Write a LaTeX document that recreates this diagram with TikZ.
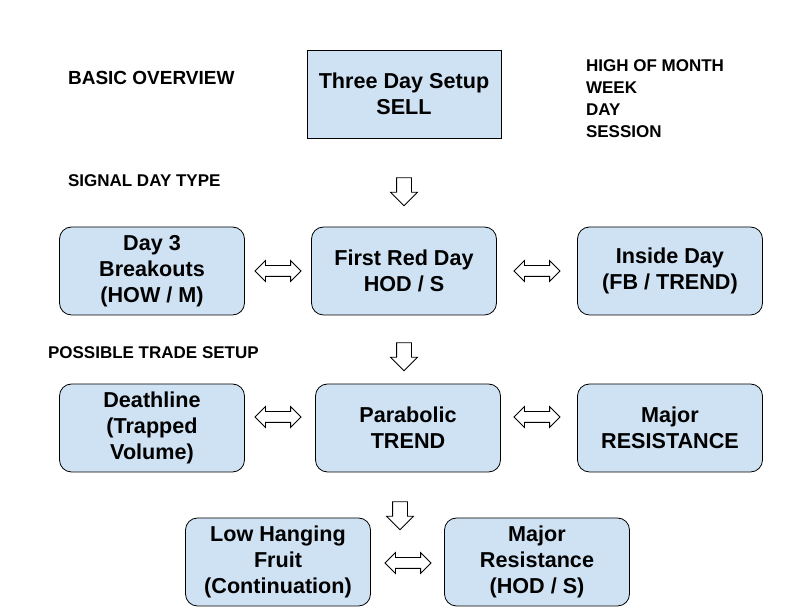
\documentclass[tikz,border=0pt]{standalone}
\usepackage{fontspec}
\setmainfont{Liberation Sans}
\usetikzlibrary{shapes.arrows}
\definecolor{boxblue}{HTML}{CFE2F3}

\begin{document}
\begin{tikzpicture}[x=0.5pt,y=-0.5pt]
        \tikzstyle{every node}=[font=\bfseries]
        \tikzstyle{box}=[draw,fill=boxblue,rounded corners=6pt,minimum width=92.5pt,minimum height=44pt,align=center,font=\fontsize{10.8}{13}\selectfont\bfseries]
        \tikzstyle{tag}=[anchor=west,font=\fontsize{8.5}{11}\selectfont\bfseries,align=left]
        \tikzstyle{down}=[draw,fill=white,single arrow,shape border rotate=270,minimum height=14pt,inner sep=3.5pt,single arrow head extend=3pt]
        \tikzstyle{both}=[draw,fill=white,double arrow,minimum height=23pt,inner sep=2.5pt,double arrow head extend=2.5pt]

        \useasboundingbox (0,0) rectangle (805,608);

        % top setup box
        \node [box,rounded corners=0pt,minimum width=97pt] (setup) at (404,94) {Three Day Setup\\SELL};

        % signal day row
        \node [box] (day3) at (152,271) {Day 3\\Breakouts\\(HOW / M)};
        \node [box] (redday) at (404,271) {First Red Day\\HOD / S};
        \node [box] (inside) at (670,271) {Inside Day\\(FB / TREND)};

        % trade setup row
        \node [box] (death) at (152,428) {Deathline\\(Trapped\\Volume)};
        \node [box] (para) at (408,428) {Parabolic\\TREND};
        \node [box] (major) at (670,428) {Major\\RESISTANCE};

        % bottom row
        \node [box] (fruit) at (278,562) {Low Hanging\\Fruit\\(Continuation)};
        \node [box] (majres) at (537,562) {Major\\Resistance\\(HOD / S)};

        %block arrows between the boxes
        \node [down] (d1) at (404,188) {};
        \node [down] (d2) at (404,353) {};
        \node [down] (d3) at (400,512) {};
        \node [both] (b1) at (278,271) {};
        \node [both] (b2) at (537,271) {};
        \node [both] (b3) at (278,417) {};
        \node [both] (b4) at (537,417) {};
        \node [both] (b5) at (408,563) {};

        %labels
        \node [tag,font=\fontsize{9.5}{11}\selectfont\bfseries] (basic) at (61,78) {BASIC OVERVIEW};
        \node [tag] (signal) at (61,181) {SIGNAL DAY TYPE};
        \node [tag] (possible) at (41,353) {POSSIBLE TRADE SETUP};
        \node [tag] (frames) at (579,99) {HIGH OF MONTH\\WEEK\\DAY\\SESSION};
\end{tikzpicture}
\end{document}
